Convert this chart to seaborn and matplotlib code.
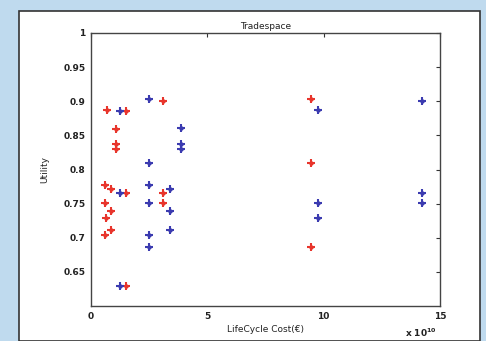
import matplotlib
matplotlib.use('Agg')
import matplotlib.pyplot as plt
import pandas as pd
import seaborn as sns
from matplotlib.patches import Rectangle

# Data (cost in units of 1e10 euro)
red_cost = [0.70, 1.49, 3.09, 1.08, 1.08, 1.08, 9.45, 9.45, 0.61, 0.87, 1.49, 3.09, 3.09,
            0.61, 0.65, 0.88, 0.87, 0.61, 1.49, 9.44]
red_utility = [0.887, 0.886, 0.900, 0.860, 0.838, 0.830, 0.904, 0.809, 0.778, 0.772, 0.765, 0.765, 0.751,
               0.751, 0.729, 0.739, 0.712, 0.704, 0.629, 0.687]
blue_cost = [1.23, 2.49, 3.85, 3.85, 3.85, 2.49, 9.75, 14.23, 1.23, 2.49, 2.49, 3.38, 3.38, 3.38,
             2.49, 2.49, 1.23, 9.75, 9.75, 14.23, 14.23]
blue_utility = [0.885, 0.903, 0.861, 0.838, 0.830, 0.809, 0.887, 0.900, 0.765, 0.778, 0.751, 0.772, 0.739, 0.712,
                0.704, 0.687, 0.629, 0.751, 0.729, 0.765, 0.751]

df_red = pd.DataFrame({'cost': red_cost, 'utility': red_utility})
df_blue = pd.DataFrame({'cost': blue_cost, 'utility': blue_utility})

sns.set_style('white')
plt.rcParams['font.family'] = ['DejaVu Sans']
plt.rcParams['font.weight'] = 'semibold'

fig = plt.figure(figsize=(4.86, 3.41), dpi=100)
fig.patch.set_facecolor('#bfdaee')
# white panel behind the axes
fig.patches.append(Rectangle((19 / 486, 0), (480 - 19) / 486, 1 - 11 / 341, transform=fig.transFigure,
                             facecolor='white', edgecolor='#333333', linewidth=1.2, zorder=-5))

ax = fig.add_axes([91 / 486, 1 - 306 / 341, (440 - 91) / 486, (306 - 33) / 341])
ax.set_zorder(2)

for d, c in [(df_red, '#e8352c'), (df_blue, '#3b3bb0')]:
    sns.scatterplot(data=d, x='cost', y='utility', ax=ax, marker='+', s=40, linewidth=1.5, color=c, legend=False)
    sns.scatterplot(data=d, x='cost', y='utility', ax=ax, marker='o', s=10, linewidth=0, color=c, legend=False)

ax.set_xlim(0, 15)
ax.set_ylim(0.6, 1.0)
ax.set_xticks([0, 5, 10, 15])
ax.set_xticklabels(['0', '5', '10', '15'])
ax.set_yticks([0.65, 0.7, 0.75, 0.8, 0.85, 0.9, 0.95, 1.0])
ax.set_yticklabels(['0.65', '0.7', '0.75', '0.8', '0.85', '0.9', '0.95', '1'])
ax.tick_params(direction='in', length=3, width=0.8, colors='#333333', labelsize=6.5,
               top=True, right=True, labeltop=False, labelright=False, pad=4)
for t in ax.get_xticklabels() + ax.get_yticklabels():
    t.set_color('#222222')
for s in ax.spines.values():
    s.set_color('#444444')
    s.set_linewidth(1.0)

ax.set_title('Tradespace', fontsize=6.5, pad=3, color='#222222')
ax.set_xlabel('LifeCycle Cost(€)', fontsize=6.5, labelpad=3, color='#222222')
ax.set_ylabel('Utility', fontsize=6.5, labelpad=10, color='#222222')
ax.text(0.99, -0.075, r'x 10$^{10}$', transform=ax.transAxes, ha='right', va='top', fontsize=6.5, color='#222222')

fig.savefig('out.png', dpi=100, facecolor=fig.get_facecolor())
